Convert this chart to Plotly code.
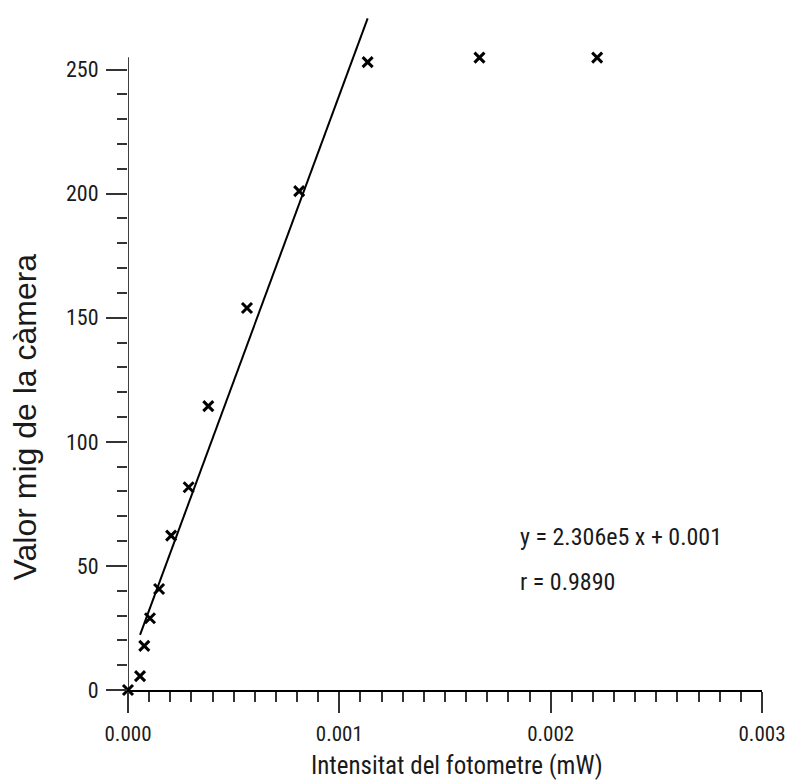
import plotly.graph_objects as go

# Data
intensity_mw = [0.0, 0.000057, 0.000077, 0.000104, 0.000147, 0.000204, 0.000287,
                0.000380, 0.000563, 0.000810, 0.001134, 0.001663, 0.002220]
camera_mean = [0, 5.6, 17.8, 28.9, 40.7, 62.2, 81.7, 114.4, 153.9, 201, 253, 254.8, 254.8]

fit_slope = 2.306e5
fit_intercept = 9.1
fit_x = [intensity_mw[1], intensity_mw[10]]
fit_y = [fit_slope * v + fit_intercept for v in fit_x]

y_major = [0, 50, 100, 150, 200, 250]
y_minor = [v for v in range(0, 256, 10) if v % 50 != 0]
x_major = [0.0, 0.001, 0.002, 0.003]
x_tick_text = ["0.000", "0.001", "0.002", "0.003"]
x_minor = [i / 10000 for i in range(0, 31) if i % 10 != 0]

NARROW = "Roboto Condensed, Liberation Sans Narrow, Arial Narrow, DejaVu Sans Condensed"
WIDE = "Liberation Sans, Arial, sans-serif"
TXT = "#1a1a1a"

fig = go.Figure()
fig.add_trace(go.Scatter(x=fit_x, y=fit_y, mode="lines",
                         line=dict(color="black", width=2), showlegend=False))
fig.add_trace(go.Scatter(x=intensity_mw, y=camera_mean, mode="markers",
                         marker=dict(symbol="x-thin", size=10, line=dict(color="black", width=3)),
                         cliponaxis=False, showlegend=False))

fig.update_layout(
    width=785, height=780,
    margin=dict(l=128, r=23, t=8, b=90, autoexpand=False),
    paper_bgcolor="white", plot_bgcolor="white",
    font=dict(family=NARROW, color=TXT, size=22),
    xaxis=dict(range=[0, 0.003], showgrid=False, zeroline=False, showline=True,
               automargin=False,
               linecolor="black", linewidth=1.5,
               tickmode="array", tickvals=x_major, ticktext=x_tick_text,
               ticks="outside", ticklen=21, tickwidth=1.5, tickcolor="#333",
               ticklabelstandoff=3, ticklabeloverflow="allow",
               minor=dict(tickmode="array", tickvals=x_minor, ticks="outside", ticklen=10,
                          tickwidth=1.5, tickcolor="#333", showgrid=False),
               tickfont=dict(size=21, family=NARROW, color=TXT)),
    yaxis=dict(range=[0, 274.8], showgrid=False, zeroline=False, showline=False,
               automargin=False,
               tickmode="array", tickvals=y_major,
               ticks="outside", ticklen=21, tickwidth=1.5, tickcolor="#333",
               ticklabelstandoff=3, ticklabeloverflow="allow",
               minor=dict(tickmode="array", tickvals=y_minor, ticks="outside", ticklen=10,
                          tickwidth=1.5, tickcolor="#333", showgrid=False),
               tickfont=dict(size=22, family=NARROW, color=TXT)),
    shapes=[dict(type="line", xref="x", yref="y", x0=0, x1=0, y0=0, y1=255,
                 line=dict(color="black", width=1.5))],
    annotations=[
        dict(text="Intensitat del fotometre (mW)", xref="paper", yref="paper",
             x=0.519, y=-0.11, showarrow=False, font=dict(size=25, family=NARROW, color=TXT),
             xanchor="center", yanchor="middle"),
        dict(text="Valor mig de la càmera", xref="paper", yref="paper",
             x=-0.162, y=0.4, showarrow=False, textangle=-90,
             font=dict(size=32, family=WIDE, color=TXT), xanchor="center", yanchor="middle"),
        dict(text="y = 2.306e5 x + 0.001", xref="x", yref="y", x=0.001846, y=61.6,
             showarrow=False, xanchor="left", yanchor="middle",
             font=dict(size=24, family=NARROW, color=TXT)),
        dict(text="r = 0.9890", xref="x", yref="y", x=0.001846, y=43.5,
             showarrow=False, xanchor="left", yanchor="middle",
             font=dict(size=24, family=NARROW, color=TXT)),
    ],
)

fig.write_html("out.html")
